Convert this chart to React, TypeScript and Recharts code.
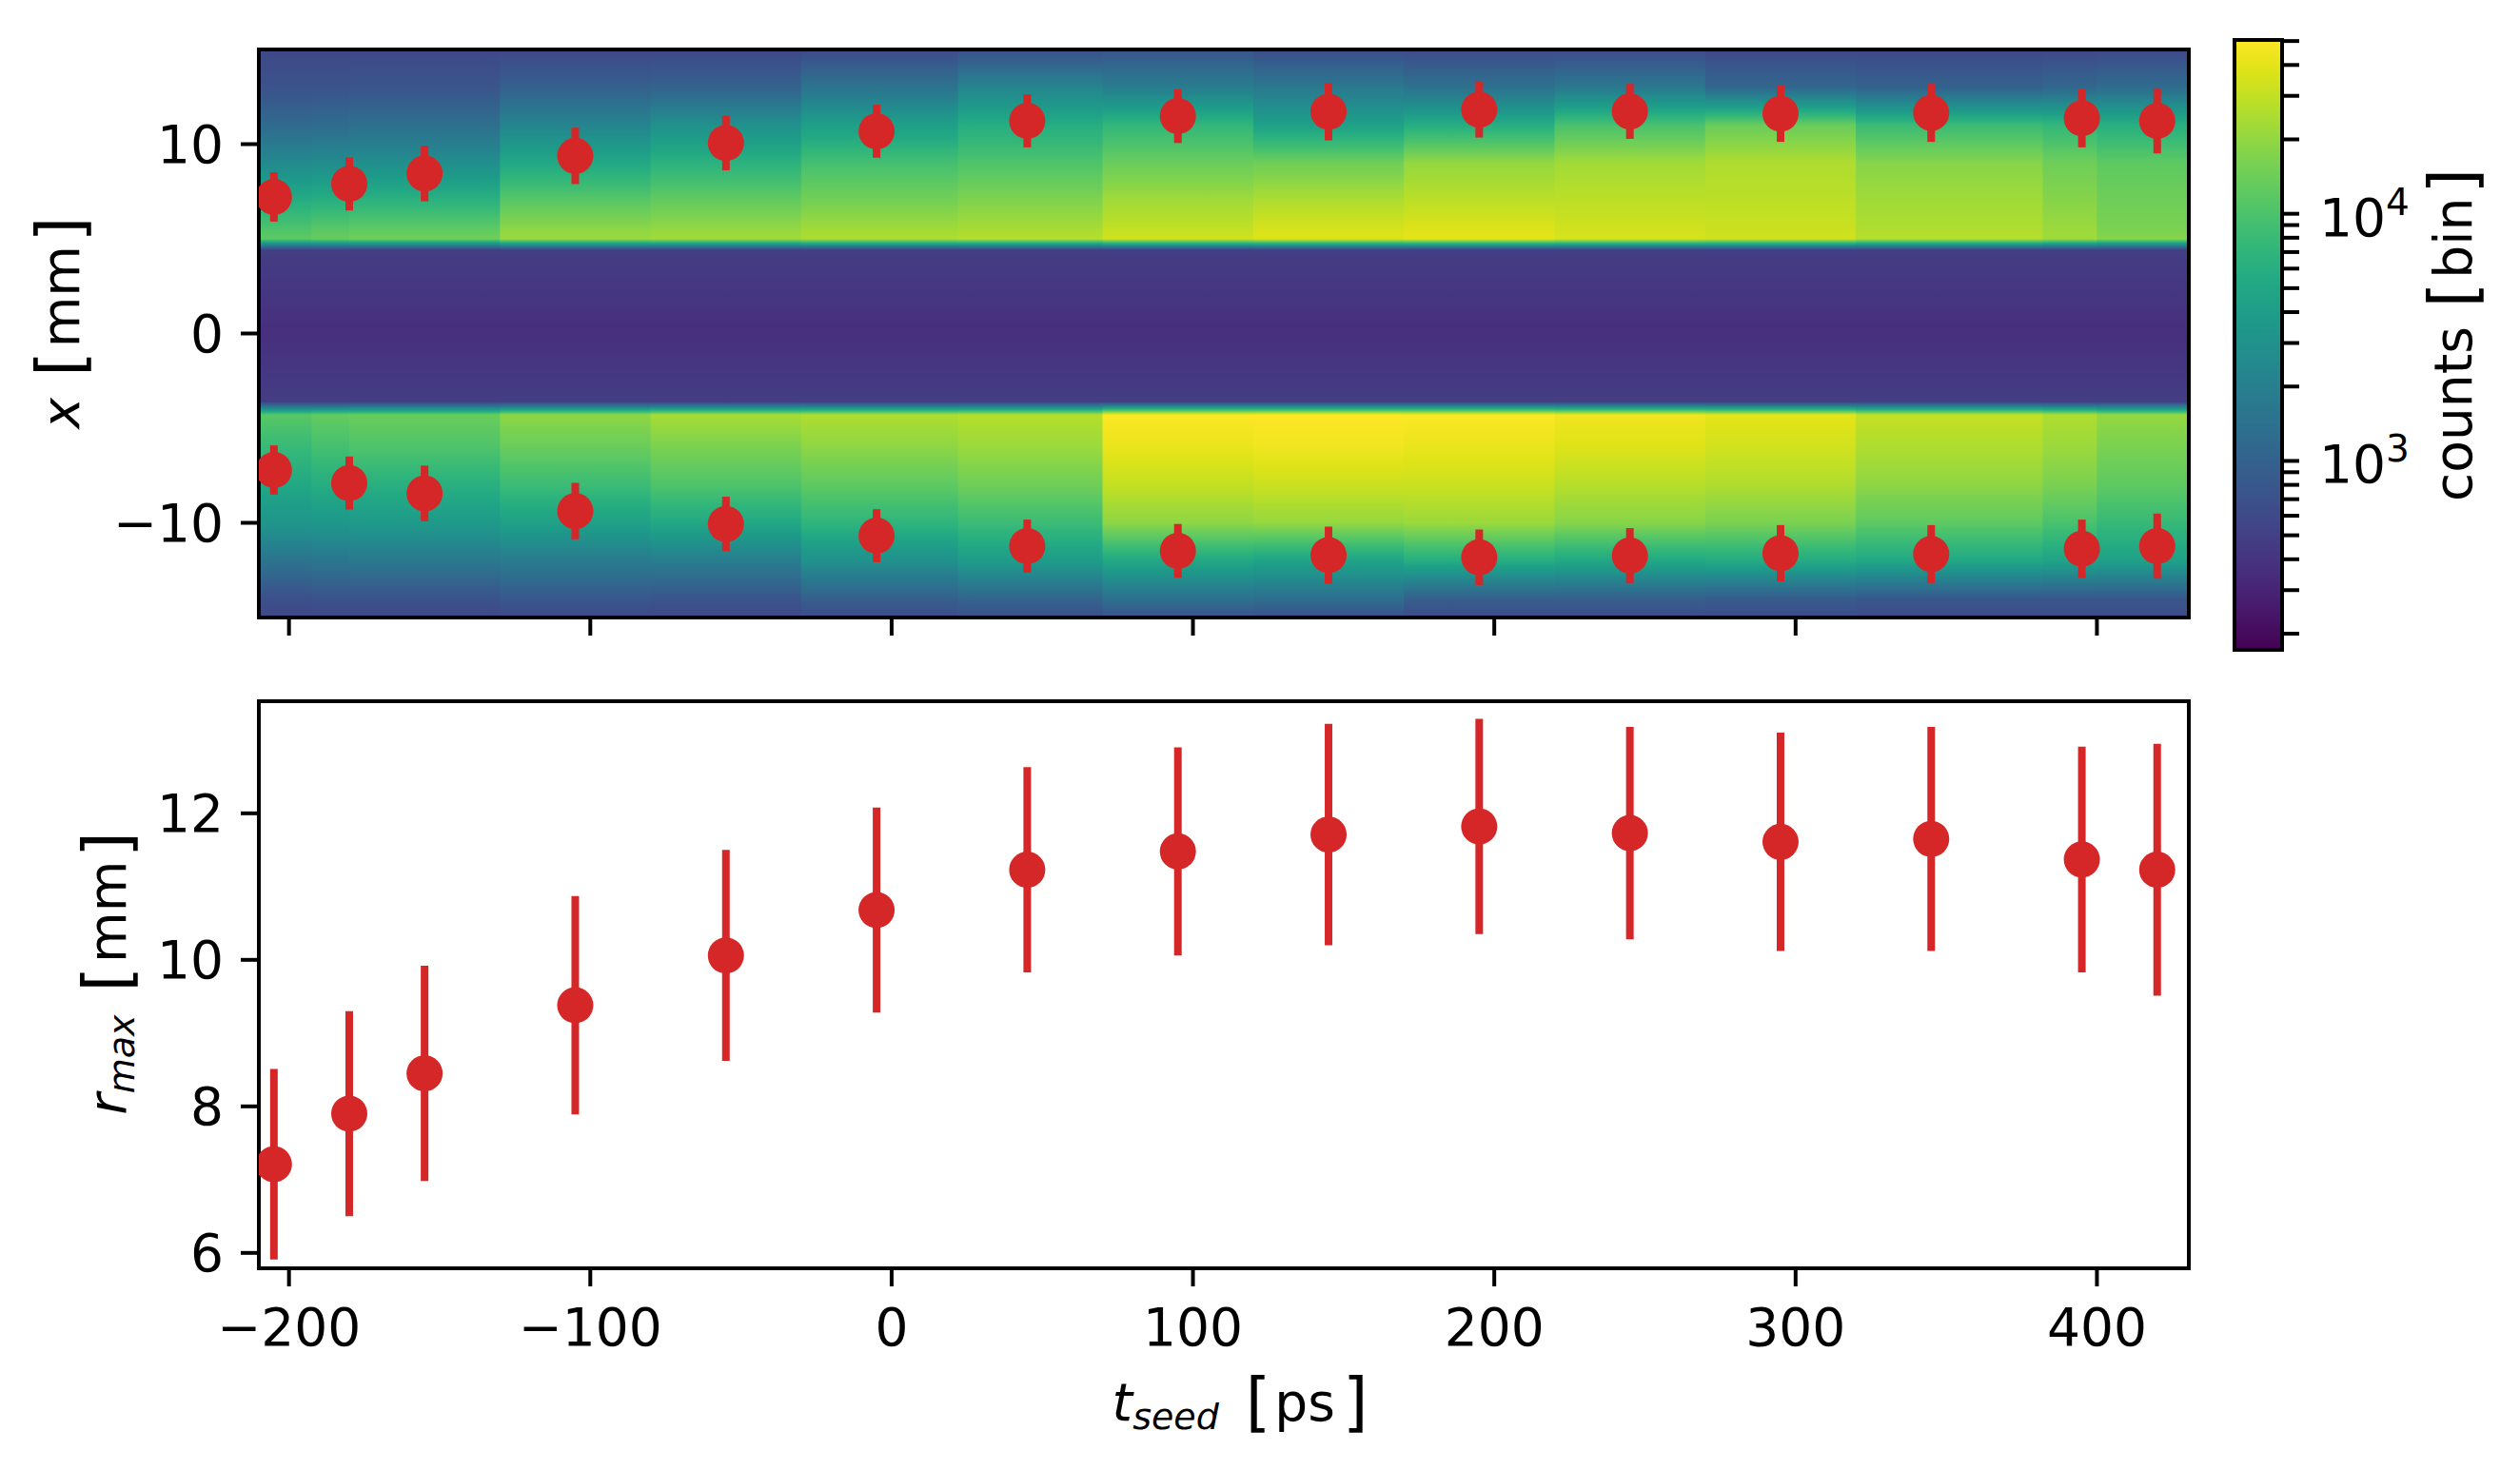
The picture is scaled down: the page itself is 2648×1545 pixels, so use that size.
import React from 'react';
import { ComposedChart, Scatter, ErrorBar, XAxis, YAxis, ReferenceArea } from 'recharts';

// ---------- data ----------
const tSeed = [-205, -180, -155, -105, -55, -5, 45, 95, 145, 195, 245, 295, 345, 395, 420];
const rMax = [7.21, 7.9, 8.45, 9.38, 10.06, 10.68, 11.23, 11.48, 11.71, 11.82, 11.73, 11.61, 11.65, 11.37, 11.23];
const rErr = [1.3, 1.4, 1.47, 1.49, 1.44, 1.4, 1.4, 1.42, 1.51, 1.47, 1.45, 1.49, 1.53, 1.54, 1.72];

const tTicks = [-200, -100, 0, 100, 200, 300, 400];
const xPosTicks = [-10, 0, 10];
const rTicks = [6, 8, 10, 12];
const cbarTicks = [200, 300, 400, 500, 600, 700, 800, 900, 1000, 2000, 3000, 4000, 5000, 6000, 7000, 8000, 9000, 10000, 20000, 30000, 40000, 50000];

// heat-map columns (t_seed bin edges) and the x positions where counts were read
const binEdges = [-210, -192.5, -180, -130, -80, -30, 22, 70, 120, 170, 220, 270, 320, 382, 400, 430.5];
const xLevels = [15, 13, 11, 9, 7, 5.5, 5.0, 4.4, 0, -3.6, -4.3, -6, -8, -10, -12, -14, -15];

const counts01 = [580, 720, 1200, 2500, 5850, 10300, 12200, 480, 370, 480, 11500, 7800, 5200, 3300, 1500, 680, 580];
const counts02 = [580, 720, 1270, 2650, 6200, 11500, 13400, 480, 370, 480, 12900, 9200, 5800, 3500, 1590, 720, 580];
const counts03 = [580, 760, 1350, 2800, 6550, 12200, 14500, 480, 370, 480, 13700, 10300, 6200, 3700, 1690, 720, 580];
const counts04 = [580, 960, 2240, 5200, 11500, 19200, 21500, 480, 370, 480, 19200, 13700, 8200, 4400, 1790, 810, 580];
const counts05 = [580, 1010, 2970, 6550, 12900, 20300, 22700, 480, 370, 480, 24000, 16200, 10300, 5200, 1890, 760, 580];
const counts06 = [610, 1510, 4170, 9200, 15300, 22700, 25400, 480, 370, 480, 25400, 19200, 12200, 6930, 2970, 960, 610];
const counts07 = [680, 2240, 5850, 10300, 17100, 24000, 26900, 480, 370, 480, 26900, 21500, 14500, 8200, 3940, 1070, 645];
const counts08 = [760, 1890, 7330, 13700, 22700, 30100, 33800, 480, 370, 480, 50100, 42300, 30100, 19200, 5200, 1420, 720];
const counts09 = [645, 1690, 4400, 14500, 25400, 35700, 37800, 480, 370, 480, 50100, 44800, 31900, 20300, 4670, 1345, 683];
const counts10 = [610, 1420, 5850, 20300, 28500, 37800, 40000, 480, 370, 480, 50100, 42300, 31900, 21500, 5850, 960, 610];
const counts11 = [610, 1690, 9730, 22700, 28500, 33800, 35700, 480, 370, 480, 44800, 37800, 26900, 18100, 5220, 960, 610];
const counts12 = [580, 1135, 13700, 25400, 28500, 31900, 33800, 480, 370, 480, 40000, 33800, 25400, 16200, 5530, 905, 610];
const counts13 = [580, 1010, 8200, 18100, 22700, 25400, 26900, 480, 370, 480, 30100, 25400, 19200, 12200, 5220, 810, 610];
const counts14 = [580, 1135, 7330, 14500, 18100, 21500, 22700, 480, 370, 480, 25400, 21500, 16200, 9730, 4670, 810, 610];
const counts15 = [580, 1270, 6190, 12200, 14500, 16200, 18100, 480, 370, 480, 20300, 16200, 12200, 7760, 4400, 810, 610];

const columnCounts = [counts01, counts02, counts03, counts04, counts05, counts06, counts07, counts08,
  counts09, counts10, counts11, counts12, counts13, counts14, counts15];

const CMIN = 172;
const CMAX = 50500;
const T_MIN = -210;
const T_MAX = 430.5;
const R_MIN = 5.79;
const R_MAX = 13.53;

// ---------- styling ----------
const FONT = "'DejaVu Sans', sans-serif";
const RED = '#d62728';
const FS = 55;

const VIRIDIS = ['#440154', '#471365', '#482475', '#463480', '#414487', '#3b528b', '#355f8d', '#2f6c8e',
  '#2a788e', '#25848e', '#21918c', '#1e9c89', '#22a884', '#2fb47c', '#44bf70', '#5ec962', '#7ad151',
  '#9bd93c', '#bddf26', '#dfe318', '#fde725'];

const hexRgb = (h: string) => [parseInt(h.slice(1, 3), 16), parseInt(h.slice(3, 5), 16), parseInt(h.slice(5, 7), 16)];
const VIR_RGB = VIRIDIS.map(hexRgb);

function viridis(f: number): string {
  const g = Math.max(0, Math.min(1, f)) * (VIR_RGB.length - 1);
  const i = Math.min(VIR_RGB.length - 2, Math.floor(g));
  const t = g - i;
  const a = VIR_RGB[i];
  const b = VIR_RGB[i + 1];
  const c = a.map((v, k) => Math.round(v + (b[k] - v) * t));
  return `rgb(${c[0]},${c[1]},${c[2]})`;
}

const LMIN = Math.log10(CMIN);
const LMAX = Math.log10(CMAX);
const normLog = (lc: number) => (lc - LMIN) / (LMAX - LMIN);

function columnStops(counts: number[]) {
  const stops: React.ReactElement[] = [];
  const K = 8;
  for (let j = 0; j < xLevels.length - 1; j++) {
    const l0 = Math.log10(counts[j]);
    const l1 = Math.log10(counts[j + 1]);
    for (let s = 0; s < K; s++) {
      const t = s / K;
      const lvl = xLevels[j] + (xLevels[j + 1] - xLevels[j]) * t;
      const lc = l0 + (l1 - l0) * t;
      stops.push(<stop key={`${j}-${s}`} offset={(15 - lvl) / 30} stopColor={viridis(normLog(lc))} />);
    }
  }
  const last = xLevels.length - 1;
  stops.push(<stop key="end" offset={(15 - xLevels[last]) / 30} stopColor={viridis(normLog(Math.log10(counts[last])))} />);
  return stops;
}

const minusFmt = (v: number) => (v < 0 ? `\u2212${Math.abs(v)}` : `${v}`);

const topPoints = tSeed.map((t, i) => ({ t, up: rMax[i], down: -rMax[i], err: rErr[i] }));
const bottomPoints = tSeed.map((t, i) => ({ t, r: rMax[i], err: rErr[i] }));
const cbarData = cbarTicks.map((v) => ({ pos: 0.5, v }));

const Dot = (p: any) => <circle cx={p.cx} cy={p.cy} r={19} fill={RED} />;

const tickStyle = { fontSize: FS, fontFamily: FONT, fill: '#000' };
const tickLineStyle = { stroke: '#000', strokeWidth: 4 };

// ---------- labels ----------
const TopYLabel = () => (
  <text transform="translate(83,339) rotate(-90)" textAnchor="middle" fontFamily={FONT} fontSize={FS} fill="#000">
    <tspan fontStyle="italic">x</tspan>
    <tspan fontSize={68} dx={22} dy={4}>[</tspan>
    <tspan dx={4} dy={-4}>mm</tspan>
    <tspan fontSize={68} dx={4} dy={4}>]</tspan>
  </text>
);

const BottomYLabel = () => (
  <text transform="translate(132,323) rotate(-90)" textAnchor="middle" fontFamily={FONT} fontSize={FS} fill="#000">
    <tspan fontStyle="italic">r</tspan>
    <tspan fontStyle="italic" fontSize={38} dy={9}>max</tspan>
    <tspan fontSize={68} dx={24} dy={-5}>[</tspan>
    <tspan dx={4} dy={-4}>mm</tspan>
    <tspan fontSize={68} dx={4} dy={4}>]</tspan>
  </text>
);

const XLabel = () => (
  <text x={1303} y={793} textAnchor="middle" fontFamily={FONT} fontSize={FS} fill="#000">
    <tspan fontStyle="italic">t</tspan>
    <tspan fontStyle="italic" fontSize={38} dy={9}>seed</tspan>
    <tspan fontSize={68} dx={28} dy={-5}>[</tspan>
    <tspan dx={4} dy={-4}>ps</tspan>
    <tspan fontSize={68} dx={8} dy={4}>]</tspan>
  </text>
);

const CbarLabel = () => (
  <text transform="translate(297,352) rotate(-90)" textAnchor="middle" fontFamily={FONT} fontSize={FS} fill="#000">
    <tspan>counts</tspan>
    <tspan fontSize={68} dx={20} dy={4}>[</tspan>
    <tspan dx={4} dy={-4}>bin</tspan>
    <tspan fontSize={68} dx={4} dy={4}>]</tspan>
  </text>
);

const CbarTick = (p: any) => {
  const v = p.payload && p.payload.value;
  if (v !== 1000 && v !== 10000) return <g />;
  const exp = v === 1000 ? '3' : '4';
  return (
    <text x={p.x} y={p.y} dy={23} textAnchor="start" fontFamily={FONT} fontSize={FS} fill="#000">
      10<tspan fontSize={39} dy={-22}>{exp}</tspan>
    </text>
  );
};

// small overlap so neighbouring columns do not leave anti-aliasing seams
const SEAM = 0.6;

// ---------- charts ----------
function TopPanel() {
  return (
    <ComposedChart width={2648} height={700} margin={{ top: 52, right: 348, bottom: 0, left: 0 }}>
      <defs>
        {columnCounts.map((c, i) => (
          <linearGradient key={i} id={`heatcol${i}`} x1="0" y1="0" x2="0" y2="1">
            {columnStops(c)}
          </linearGradient>
        ))}
      </defs>
      <XAxis dataKey="t" type="number" domain={[T_MIN, T_MAX]} allowDataOverflow ticks={tTicks} interval={0}
        tickFormatter={() => ''} tick={tickStyle} tickLine={tickLineStyle} tickSize={19} axisLine={false} height={51} />
      <YAxis type="number" domain={[-15, 15]} allowDataOverflow ticks={xPosTicks} interval={0}
        tickFormatter={minusFmt} tick={tickStyle} tickLine={tickLineStyle} tickSize={19} tickMargin={18}
        axisLine={false} width={272} label={<TopYLabel />} />
      {columnCounts.map((c, i) => (
        <ReferenceArea key={`cell${i}`} x1={binEdges[i]}
          x2={i < columnCounts.length - 1 ? binEdges[i + 1] + SEAM : binEdges[i + 1]} y1={-15} y2={15}
          fill={`url(#heatcol${i})`} fillOpacity={1} stroke="none" ifOverflow="visible" />
      ))}
      <Scatter data={topPoints} dataKey="up" shape={Dot} isAnimationActive={false}>
        <ErrorBar dataKey="err" direction="y" width={0} stroke={RED} strokeWidth={8} isAnimationActive={false} />
      </Scatter>
      <Scatter data={topPoints} dataKey="down" shape={Dot} isAnimationActive={false}>
        <ErrorBar dataKey="err" direction="y" width={0} stroke={RED} strokeWidth={8} isAnimationActive={false} />
      </Scatter>
      <ReferenceArea x1={T_MIN} x2={T_MAX} y1={-15} y2={15} fill="none" fillOpacity={0}
        stroke="#000" strokeWidth={4} ifOverflow="visible" />
    </ComposedChart>
  );
}

function BottomPanel() {
  return (
    <ComposedChart width={2648} height={845} margin={{ top: 37, right: 348, bottom: 0, left: 0 }}>
      <XAxis dataKey="t" type="number" domain={[T_MIN, T_MAX]} allowDataOverflow ticks={tTicks} interval={0}
        tickFormatter={minusFmt} tick={tickStyle} tickLine={tickLineStyle} tickSize={19} tickMargin={23}
        axisLine={false} height={212} label={<XLabel />} />
      <YAxis type="number" domain={[R_MIN, R_MAX]} allowDataOverflow ticks={rTicks} interval={0}
        tickFormatter={minusFmt} tick={tickStyle} tickLine={tickLineStyle} tickSize={19} tickMargin={18}
        axisLine={false} width={272} label={<BottomYLabel />} />
      <Scatter data={bottomPoints} dataKey="r" shape={Dot} isAnimationActive={false}>
        <ErrorBar dataKey="err" direction="y" width={0} stroke={RED} strokeWidth={8} isAnimationActive={false} />
      </Scatter>
      <ReferenceArea x1={T_MIN} x2={T_MAX} y1={R_MIN} y2={R_MAX} fill="none" fillOpacity={0}
        stroke="#000" strokeWidth={4} ifOverflow="visible" />
    </ComposedChart>
  );
}

function ColorbarPanel() {
  return (
    <ComposedChart width={348} height={700} data={cbarData} margin={{ top: 42, right: 0, bottom: 17, left: 48 }}>
      <defs>
        <linearGradient id="cbarGrad" x1="0" y1="1" x2="0" y2="0">
          {VIRIDIS.map((c, i) => (
            <stop key={i} offset={i / (VIRIDIS.length - 1)} stopColor={c} />
          ))}
        </linearGradient>
      </defs>
      <XAxis dataKey="pos" type="number" domain={[0, 1]} hide />
      <YAxis dataKey="v" type="number" scale="log" domain={[CMIN, CMAX]} allowDataOverflow orientation="right"
        ticks={cbarTicks} interval={0} tick={<CbarTick />} tickLine={tickLineStyle} tickSize={18} tickMargin={21}
        axisLine={false} width={250} label={<CbarLabel />} />
      <ReferenceArea x1={0} x2={1} y1={CMIN} y2={CMAX} fill="url(#cbarGrad)" fillOpacity={1}
        stroke="#000" strokeWidth={4} ifOverflow="visible" />
    </ComposedChart>
  );
}

export default function App() {
  return (
    <div style={{ position: 'absolute', left: 0, top: 0, width: 2648, height: 1545, background: '#fff', overflow: 'hidden' }}>
      <div style={{ position: 'absolute', left: 0, top: 0 }}>
        <TopPanel />
      </div>
      <div style={{ position: 'absolute', left: 0, top: 700 }}>
        <BottomPanel />
      </div>
      <div style={{ position: 'absolute', left: 2300, top: 0 }}>
        <ColorbarPanel />
      </div>
    </div>
  );
}
